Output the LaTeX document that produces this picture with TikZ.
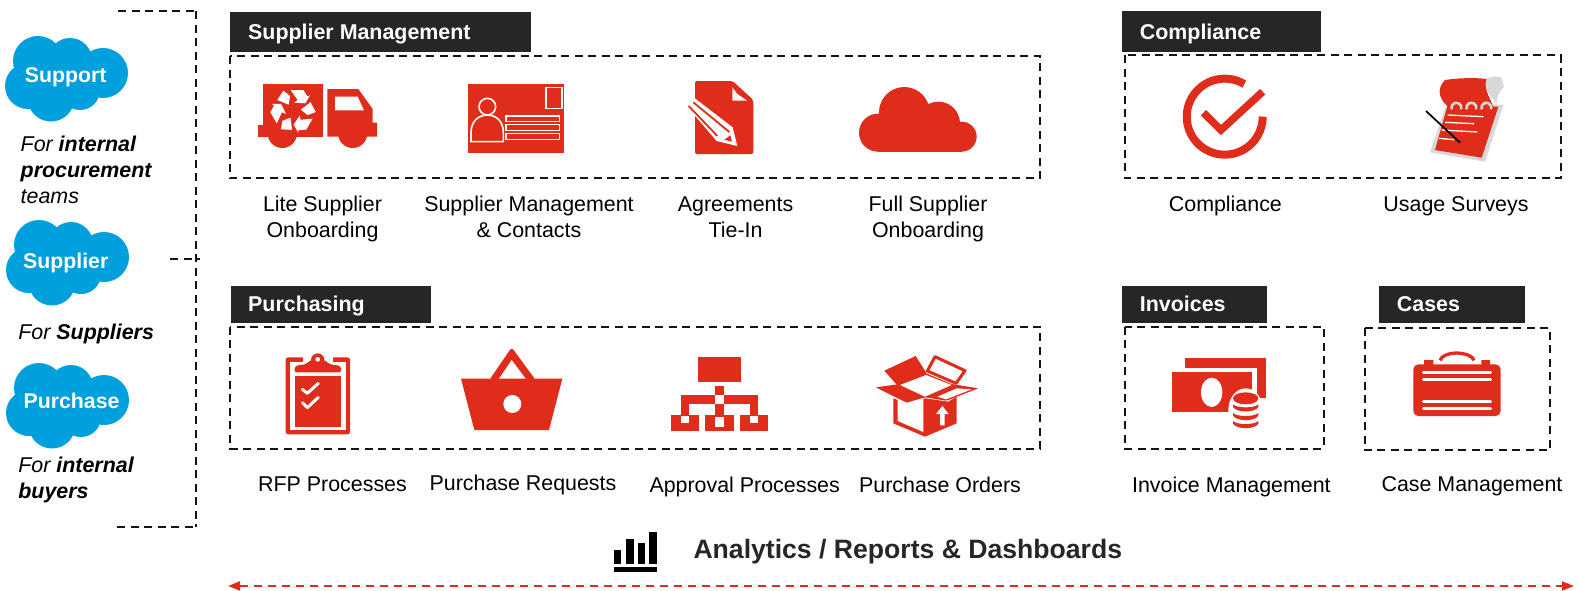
\documentclass[tikz,border=0pt]{standalone}
\usepackage{fontspec}
\setmainfont{Liberation Sans}
\usetikzlibrary{arrows.meta}
\definecolor{ired}{RGB}{224,44,26}
\definecolor{cblue}{RGB}{0,159,222}
\definecolor{hdark}{RGB}{38,38,38}
\definecolor{dashk}{RGB}{20,20,20}
\definecolor{lgray}{RGB}{216,216,216}
\newcommand{\ft}{\rule{0pt}{15pt}}
\tikzset{
  zm/.style={x=.33333pt,y=-.33333pt},
  dbox/.style={draw=dashk,line width=2pt,dash pattern=on 8pt off 5.5pt},
  hbox/.style={fill=hdark,draw=none},
  htext/.style={text=white,font=\fontsize{21.4}{24}\selectfont\bfseries,anchor=base west,inner sep=0pt},
  lab/.style={text=black,font=\fontsize{21.4}{25.8}\selectfont,align=center,inner sep=0pt,anchor=north},
  who/.style={text=black,font=\fontsize{21.4}{25.9}\selectfont\itshape,align=left,anchor=north west,inner sep=0pt},
  ctext/.style={text=white,font=\fontsize{21.3}{24}\selectfont\bfseries,inner sep=0pt,anchor=base},
  sfcloud/.pic={
    \fill[cblue] (38,61) circle[radius=25pt] (70,60) circle[radius=22pt]
      (103,73) circle[radius=25pt] (28,86) circle[radius=23pt]
      (51,98) circle[radius=23.5pt] (80,90) circle[radius=20pt] (65,78) circle[radius=30pt];
  }
}
\begin{document}
\begin{tikzpicture}[x=1pt,y=-1pt]
\useasboundingbox (0,0) rectangle (1580,590);
\fill[white] (0,0) rectangle (1580,590);

% bracket
\coordinate (bt) at (118,11); \coordinate (btc) at (196,11);
\coordinate (bbc) at (196,527); \coordinate (bb) at (117,527);
\coordinate (sa) at (170,258.5); \coordinate (sb) at (200,258.5);
\draw[dbox] (bt) -- (btc);
\draw[dbox] (btc) -- (bbc);
\draw[dbox] (bb) -- (bbc);
\draw[dbox] (sa) -- (sb);

% clouds
\pic at (0,0) {sfcloud};
\pic at (1,184) {sfcloud};
\pic at (1,327) {sfcloud};
\node[ctext] (cs1) at (65.7,82.6) {Support};
\node[ctext] (cs2) at (65.7,268) {Supplier};
\node[ctext] (cs3) at (71.5,408.6) {Purchase};
\node[who] (w1) at (20.5,136) {\ft For \textbf{internal}\\\textbf{procurement}\\teams};
\node[who] (w2) at (18.2,323.5) {\ft For \textbf{Suppliers}};
\node[who] (w3) at (18.2,457) {\ft For \textbf{internal}\\\textbf{buyers}};

% headers
\fill[hbox] (230,12.3) rectangle (531,51.5);
\node[htext] (h1) at (248,39) {Supplier Management};
\fill[hbox] (1121.6,11) rectangle (1321,51.5);
\node[htext] (h2) at (1139.7,39) {Compliance};
\fill[hbox] (230.8,286.2) rectangle (431.3,322.5);
\node[htext] (h3) at (248,311.2) {Purchasing};
\fill[hbox] (1121.6,286.2) rectangle (1266.7,322.5);
\node[htext] (h4) at (1139.7,311.2) {Invoices};
\fill[hbox] (1378.5,286.2) rectangle (1524.6,322.5);
\node[htext] (h5) at (1396.7,311.2) {Cases};

% dashed boxes
\draw[dbox] (230,56) rectangle (1040,178.3);
\draw[dbox] (1124.6,55.4) rectangle (1561,178.4);
\draw[dbox] (230,326.5) rectangle (1040,448.5);
\draw[dbox] (1124.6,326.5) rectangle (1323.5,448.5);
\draw[dbox] (1365,327.5) rectangle (1549.8,450.4);

% labels
\node[lab] (l1) at (322.5,196.1) {\ft Lite Supplier\\Onboarding};
\node[lab] (l2) at (529,196.1) {\ft Supplier Management\\\& Contacts};
\node[lab] (l3) at (735.6,196.1) {\ft Agreements\\Tie-In};
\node[lab] (l4) at (928,196.1) {\ft Full Supplier\\Onboarding};
\node[lab] (l5) at (1225.4,196.1) {\ft Compliance};
\node[lab] (l6) at (1456,196.1) {\ft Usage Surveys};
\node[lab] (l7) at (332.5,476.3) {\ft RFP Processes};
\node[lab] (l8) at (523,474.3) {\ft Purchase Requests};
\node[lab] (l9) at (744.7,476.3) {\ft Approval Processes};
\node[lab] (l10) at (940,476.3) {\ft Purchase Orders};
\node[lab] (l11) at (1231.4,476.3) {\ft Invoice Management};
\node[lab] (l12) at (1472,476.3) {\ft Case Management};

% truck
\begin{scope}[shift={(240,70)},zm]
\fill[ired] (68,43) rectangle (248,200);
\fill[ired] (55,165) rectangle (70,200);
\fill[ired] (127,190) circle[radius=44];
\fill[ired] (262,57) -- (355,57) -- (398,117) -- (398,158) -- (411,158) -- (411,200) -- (262,200) -- cycle;
\fill[ired] (338,190) circle[radius=44];
\fill[white] (285,80) -- (353,80) -- (372,121) -- (285,121) -- cycle;
\foreach \a in {0,120,240}{
  \fill[white,rotate around={\a:(160,122)}] (112,90) -- (130,62) -- (150,78) -- (146,104) -- cycle;
  \fill[white,rotate around={\a:(160,122)}] (152,60) -- (190,60) -- (203,80) -- (210,76) -- (196,100) -- (163,98) -- (173,90) -- cycle;
}
\end{scope}

% card
\begin{scope}[shift={(240,70)},zm]
\fill[ired] (685,43) rectangle (972,248);
\draw[white,line width=1.6pt] (918,52) rectangle (966,115);
\draw[white,line width=1.6pt] (742,110) circle[radius=25];
\draw[white,line width=1.6pt] (693,215) -- (693,188) .. controls (693,150) and (720,135) .. (742,135) .. controls (765,135) and (790,150) .. (790,188) -- (790,215) -- cycle;
\draw[white,line width=1.6pt] (798,138) rectangle (958,155) (798,164) rectangle (958,182) (798,190) rectangle (958,208);
\end{scope}

% agreement
\begin{scope}[shift={(660,70)},zm]
\fill[ired,rounded corners=2pt] (105,33) -- (218,33) -- (280,90) -- (280,252) -- (105,252) -- cycle;
\fill[white] (217,52) -- (232,72) -- (262,92) -- (217,92) -- cycle;
\fill[white] (98,80) -- (218,172) -- (232,228) -- (170,213) -- (80,108) -- cycle;
\draw[ired,line width=1.8pt] (100,97) -- (208,186);
\draw[ired,line width=1.8pt] (86,108) -- (172,198);
\fill[ired] (193,209) -- (211,196) -- (216,215) -- cycle;
\end{scope}

% cloud icon
\begin{scope}[shift={(660,70)},zm]
\fill[ired] (733,127) circle[radius=76] (835,160) circle[radius=65] (905,200) circle[radius=45] (654,188) circle[radius=57];
\fill[ired] (654,160) rectangle (905,245);
\end{scope}

% compliance check
\draw[ired,line width=8pt] (1244.3,84.1) arc[start angle=59,end angle=360,radius=38pt];
\begin{scope}[shift={(1150,65)},zm]
\draw[ired,line width=7.5pt,miter limit=10] (160,143) -- (213,195) -- (338,80);
\end{scope}

% survey
\begin{scope}[shift={(1150,65)},zm]
\fill[lgray] (890,115) -- (1060,120) -- (1005,290) -- (840,262) -- cycle;
\fill[ired] (893,120) -- (1045,125) -- (995,278) -- (855,255) -- cycle;
\fill[lgray] (1005,42) .. controls (1030,35) and (1050,30) .. (1055,40) -- (1062,65) .. controls (1045,85) and (1040,95) .. (1040,118) .. controls (1020,90) and (1000,70) .. (1005,42) -- cycle;
\fill[ired] (885,45) .. controls (930,38) and (980,38) .. (1010,42) .. controls (1000,65) and (1015,90) .. (1030,125) -- (895,125) .. controls (872,108) and (855,75) .. (885,45) -- cycle;
\foreach \c in {920,965,1010}{
  \draw[lgray,line width=2.6pt] (\c-15,133) arc[start angle=200,end angle=-20,radius=5pt];
}
\draw[white,line width=1.3pt] (893,150) -- (1000,155) (885,172) -- (972,176) (875,195) -- (982,201) (867,220) -- (912,224);
\draw[black,line width=1.7pt] (828,138) -- (930,233);
\end{scope}

% clipboard
\begin{scope}[shift={(260,340)},zm]
\fill[ired,rounded corners=2.5pt] (77,52) rectangle (270,283);
\fill[white] (90,66) rectangle (257,271);
\fill[ired] (104,107) rectangle (243,260);
\fill[white] (130,52) rectangle (218,66);
\fill[ired,rounded corners=2pt] (104,97) -- (104,78) -- (140,72) -- (150,60) -- (196,60) -- (206,72) -- (243,78) -- (243,97) -- cycle;
\fill[ired] (173,60) circle[radius=20];
\fill[white] (173,58) circle[radius=7];
\draw[white,line width=3pt,line cap=round,line join=round] (127,148) -- (142,160) -- (175,130);
\draw[white,line width=3pt,line cap=round,line join=round] (127,188) -- (142,203) -- (175,172);
\end{scope}

% basket
\begin{scope}[shift={(260,340)},zm]
\fill[ired] (603,116) -- (907,116) -- (867,270) -- (643,270) -- cycle;
\fill[ired,rounded corners=3pt] (688,120) -- (755,22) -- (827,120) -- cycle;
\fill[white] (717,116) -- (755,60) -- (797,116) -- cycle;
\fill[white] (757,192) circle[radius=27];
\end{scope}

% hierarchy
\begin{scope}[shift={(650,340)},zm]
\fill[ired] (145,52) rectangle (273,126);
\fill[ired] (195,138) rectangle (221,165);
\fill[ired] (93,165) rectangle (195,192);
\fill[ired] (221,165) rectangle (325,192);
\fill[ired] (195,192) rectangle (221,225);
\fill[ired] (93,192) rectangle (118,225);
\fill[ired] (300,192) rectangle (325,225);
\fill[ired] (63,225) rectangle (147,272);
\fill[ired] (166,225) rectangle (251,272);
\fill[ired] (270,225) rectangle (354,272);
\fill[white] (92,228) rectangle (118,250);
\fill[white] (196,232) rectangle (221,262);
\fill[white] (300,228) rectangle (325,250);
\end{scope}

% open box
\begin{scope}[shift={(650,340)},zm]
\fill[ired,line join=round] (730,175) -- (770,190) -- (825,175) -- (895,185) -- (920,170) -- (920,250) -- (825,290) -- (730,250) -- cycle;
\fill[white] (743,178) -- (770,188) -- (820,172) -- (820,276) -- (743,243) -- cycle;
\fill[ired] (703,92) -- (797,48) -- (830,100) -- (745,140) -- cycle;
\draw[ired,line width=3pt,line join=round] (855,50) -- (945,92) -- (918,130) -- (832,93) -- cycle;
\fill[ired,rounded corners=1pt] (677,142) -- (750,132) -- (828,100) -- (905,132) -- (985,145) -- (890,182) -- (825,172) -- (770,188) -- cycle;
\fill[white] (750,135) -- (828,105) -- (905,135) -- (825,170) -- cycle;
\fill[white] (862,170) -- (920,145) -- (965,148) -- (888,178) -- cycle;
\fill[white] (858,222) -- (877,198) -- (896,222) -- (884,222) -- (884,256) -- (870,256) -- (870,222) -- cycle;
\end{scope}

% invoice
\begin{scope}[shift={(1140,335)},zm]
\fill[ired] (135,68) rectangle (377,188);
\fill[white] (122,98) rectangle (350,240);
\fill[ired] (97,112) rectangle (335,230);
\fill[white] (215,172) ellipse[x radius=32,y radius=44];
\fill[white] (317,225) ellipse[x radius=52,y radius=65];
\fill[ired] (317,190) ellipse[x radius=38,y radius=18];
\foreach \y in {208,234,258}{
  \fill[ired] (279,\y) .. controls (290,\y+12) and (344,\y+12) .. (355,\y) -- (355,\y+8) .. controls (344,\y+26) and (290,\y+26) .. (279,\y+8) -- cycle;
}
\end{scope}

% case
\begin{scope}[shift={(1140,335)},zm]
\fill[ired,rounded corners=5pt] (820,88) rectangle (1082,243);
\fill[ired] (852,75) rectangle (880,92) (1024,75) rectangle (1050,92);
\draw[ired,line width=3.3pt] (900,76) .. controls (905,62) and (925,55) .. (950,54) .. controls (975,55) and (998,62) .. (1002,76);
\draw[white,line width=3pt,line cap=round] (850,111) -- (1052,111) (850,133) -- (1052,133) (850,198) -- (1052,198) (850,221) -- (1052,221);
\end{scope}

% analytics
\fill[black] (613.8,550) rectangle (621.4,563.5);
\fill[black] (626,539) rectangle (634,563.5);
\fill[black] (637.5,542.7) rectangle (645,563.5);
\fill[black] (648.7,532) rectangle (656.5,563.5);
\fill[black] (613.8,567.3) rectangle (657,571.7);
\node[text=hdark,font=\fontsize{26.6}{32}\selectfont\bfseries,anchor=base west,inner sep=0pt] (an) at (693.3,558.5) {Analytics / Reports \& Dashboards};

% bottom arrow
\coordinate (al) at (228,586); \coordinate (ar) at (1574,586);
\draw[ired,line width=2pt,dash pattern=on 8pt off 6pt,{Triangle[length=12pt,width=9pt]}-{Triangle[length=12pt,width=9pt]}] (al) -- (ar);
\end{tikzpicture}
\end{document}
